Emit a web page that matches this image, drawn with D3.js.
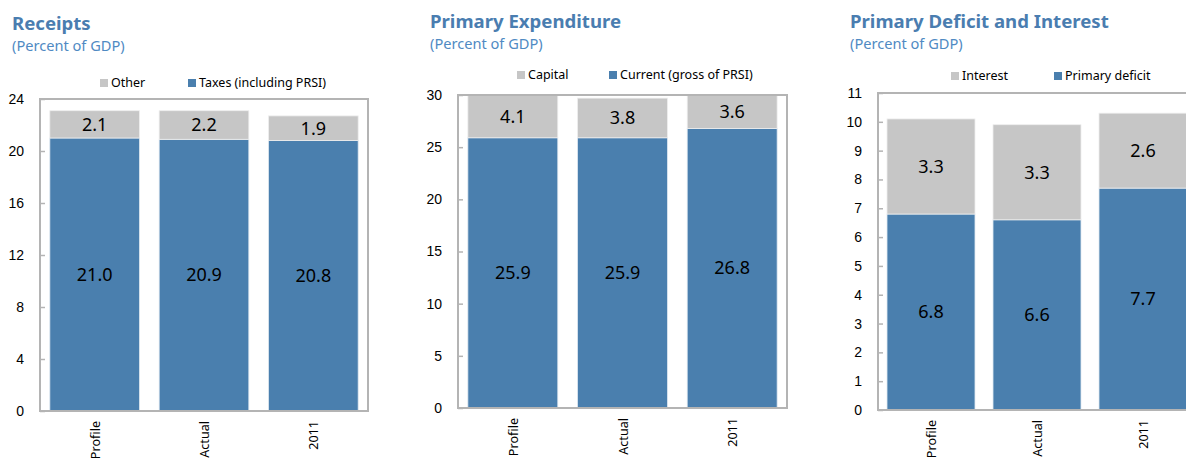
<!DOCTYPE html>
<html>
<head>
<meta charset="utf-8">
<script src="https://cdn.jsdelivr.net/npm/d3@7"></script>
<style>
  body { margin: 0; background: #fff; }
  svg { font-family: "Segoe UI", "Noto Sans", "Open Sans", sans-serif; }
  .title { font-weight: bold; fill: #4a7db0; font-size: 18.6px; }
  .subtitle { fill: #4f8ac3; font-size: 14.6px; }
  .tick text { font-size: 14px; fill: #000; }
  .legend text { font-size: 12.5px; fill: #000; }
  .xlab { font-size: 12.6px; fill: #000; }
  .val { font-size: 18px; fill: #000; }
</style>
</head>
<body>
<svg id="chart" width="1186" height="460"></svg>
<script>
const categories = ["Profile", "Actual", "2011"];

const receiptsTaxes = [21.0, 20.9, 20.8];
const receiptsOther = [2.1, 2.2, 1.9];
const receiptsTicks = [0, 4, 8, 12, 16, 20, 24];

const expCurrent = [25.9, 25.9, 26.8];
const expCapital = [4.1, 3.8, 3.6];
const expTicks = [0, 5, 10, 15, 20, 25, 30];

const deficitPrimary = [6.8, 6.6, 7.7];
const deficitInterest = [3.3, 3.3, 2.6];
const deficitTicks = [0, 1, 2, 3, 4, 5, 6, 7, 8, 9, 10, 11];

const blue = "#4a7fae";
const grey = "#c6c6c6";
const frameGrey = "#b4b4b4";

const svg = d3.select("#chart");

// one panel = title + legend + framed stacked bar plot
function drawPanel(cfg) {
  const g = svg.append("g");

  g.append("text").attr("class", "title")
   .attr("x", cfg.titleX).attr("y", cfg.titleY)
   .text(cfg.title);
  g.append("text").attr("class", "subtitle")
   .attr("x", cfg.titleX).attr("y", cfg.titleY + 21)
   .text("(Percent of GDP)");

  const x = d3.scaleBand()
              .domain(categories)
              .range([cfg.left, cfg.right])
              .paddingInner(cfg.pad)
              .paddingOuter(cfg.pad / 2);
  const y = d3.scaleLinear()
              .domain([0, d3.max(cfg.ticks)])
              .range([cfg.bottom, cfg.top]);

  const clipId = "clip" + cfg.id;
  g.append("clipPath").attr("id", clipId)
   .append("rect")
   .attr("x", cfg.left).attr("y", cfg.top)
   .attr("width", cfg.right - cfg.left).attr("height", cfg.bottom - cfg.top);

  const rows = categories.map((c, i) => ({
    cat: c, lower: cfg.lower[i], upper: cfg.upper[i]
  }));

  const bars = g.append("g").attr("clip-path", "url(#" + clipId + ")");
  bars.selectAll("rect.low")
      .data(rows).enter().append("rect")
      .attr("class", "low")
      .attr("x", d => x(d.cat))
      .attr("width", x.bandwidth())
      .attr("y", d => y(d.lower))
      .attr("height", d => y(0) - y(d.lower))
      .attr("fill", blue)
      .attr("stroke", "#dfe8f1").attr("stroke-width", 0.8);
  bars.selectAll("rect.up")
      .data(rows).enter().append("rect")
      .attr("class", "up")
      .attr("x", d => x(d.cat))
      .attr("width", x.bandwidth())
      .attr("y", d => y(d.lower + d.upper))
      .attr("height", d => y(d.lower) - y(d.lower + d.upper))
      .attr("fill", grey)
      .attr("stroke", "#eeeeee").attr("stroke-width", 0.8);

  const yMax = d3.max(cfg.ticks);
  // value labels, centred in the visible part of each segment
  g.selectAll("text.vlow")
   .data(rows).enter().append("text")
   .attr("class", "val")
   .attr("text-anchor", "middle")
   .attr("x", d => x(d.cat) + x.bandwidth() / 2)
   .attr("y", d => (y(0) + y(d.lower)) / 2)
   .attr("dy", "0.35em")
   .text(d => d.lower.toFixed(1));
  g.selectAll("text.vup")
   .data(rows).enter().append("text")
   .attr("class", "val")
   .attr("text-anchor", "middle")
   .attr("x", d => x(d.cat) + x.bandwidth() / 2)
   .attr("y", d => (y(d.lower) + y(Math.min(yMax, d.lower + d.upper))) / 2)
   .attr("dy", "0.35em")
   .text(d => d.upper.toFixed(1));

  // frame
  g.append("rect")
   .attr("x", cfg.left).attr("y", cfg.top)
   .attr("width", cfg.right - cfg.left).attr("height", cfg.bottom - cfg.top)
   .attr("fill", "none").attr("stroke", frameGrey).attr("stroke-width", 2);

  const yAxis = d3.axisLeft(y).tickValues(cfg.ticks).tickSize(-5).tickPadding(16);
  const ax = g.append("g")
              .attr("transform", "translate(" + cfg.left + ",0)")
              .call(yAxis);
  ax.select(".domain").remove();
  ax.selectAll(".tick line").attr("stroke", frameGrey).attr("stroke-width", 1.5);
  ax.selectAll(".tick text").attr("font-family", null).attr("font-size", null);

  // rotated category labels
  g.selectAll("text.xlab")
   .data(categories).enter().append("text")
   .attr("class", "xlab")
   .attr("text-anchor", "end")
   .attr("transform", d => "translate(" + (x(d) + x.bandwidth() / 2 + 5) + "," + (cfg.bottom + 10) + ") rotate(-90)")
   .text(d => d);

  // legend
  const leg = g.append("g").attr("class", "legend");
  cfg.legend.forEach(l => {
    leg.append("rect")
       .attr("x", l.x).attr("y", cfg.legendY - 4)
       .attr("width", 8).attr("height", 8)
       .attr("fill", l.color);
    leg.append("text")
       .attr("x", l.x + 11).attr("y", cfg.legendY)
       .attr("dy", "0.35em")
       .text(l.label);
  });
}

drawPanel({
  id: 1, title: "Receipts", titleX: 12, titleY: 30,
  left: 40, right: 368, top: 99, bottom: 411, pad: 0.18,
  lower: receiptsTaxes, upper: receiptsOther, ticks: receiptsTicks,
  legendY: 83,
  legend: [
    {x: 100, color: grey, label: "Other"},
    {x: 188, color: blue, label: "Taxes (including PRSI)"}
  ]
});

drawPanel({
  id: 2, title: "Primary Expenditure", titleX: 430, titleY: 28,
  left: 458, right: 787, top: 95, bottom: 408, pad: 0.18,
  lower: expCurrent, upper: expCapital, ticks: expTicks,
  legendY: 75,
  legend: [
    {x: 517, color: grey, label: "Capital"},
    {x: 609, color: blue, label: "Current (gross of PRSI)"}
  ]
});

drawPanel({
  id: 3, title: "Primary Deficit and Interest", titleX: 850, titleY: 28,
  left: 878, right: 1196, top: 93, bottom: 410, pad: 0.17,
  lower: deficitPrimary, upper: deficitInterest, ticks: deficitTicks,
  legendY: 76,
  legend: [
    {x: 951, color: grey, label: "Interest"},
    {x: 1054, color: blue, label: "Primary deficit"}
  ]
});
</script>
</body>
</html>
